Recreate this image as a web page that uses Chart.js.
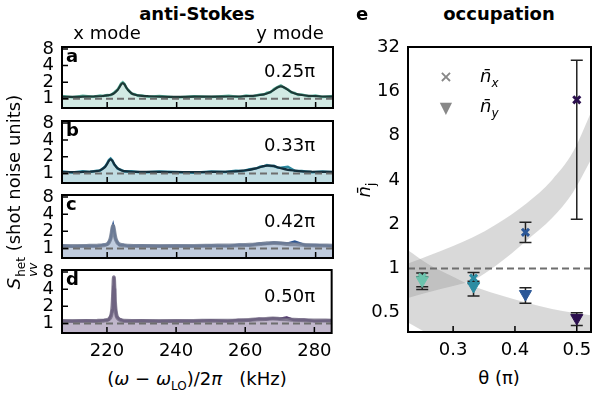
<!DOCTYPE html>
<html>
<head>
<meta charset="utf-8">
<script src="https://cdn.jsdelivr.net/npm/chart.js@4.4.1/dist/chart.umd.min.js"></script>
<style>
    body { margin: 0; background: #fff; }
    #fig { position: relative; width: 610px; height: 393px; overflow: hidden;
           font-family: 'DejaVu Sans', sans-serif; font-size: 18px; color: #000; }
    canvas { position: absolute; }
    .t { position: absolute; white-space: nowrap; line-height: 1; }
    .c { transform: translate(-50%, -50%); }
    .b { font-weight: bold; }
    .ss { display: inline-flex; flex-direction: column; font-size: 12px; line-height: 1; vertical-align: -5px; margin-left: 1px; }
    sub { font-size: 12px; }
</style>
</head>
<body>
<div id="fig">
    <canvas id="pa" width="340" height="73" style="left:0;top:38px"></canvas>
    <canvas id="pb" width="340" height="74" style="left:0;top:112px"></canvas>
    <canvas id="pc" width="340" height="75" style="left:0;top:186px"></canvas>
    <canvas id="pd" width="340" height="102" style="left:0;top:261px"></canvas>
    <canvas id="pe" width="270" height="325" style="left:340px;top:37px"></canvas>

    <div class="t c b" style="left:197px;top:14px">anti-Stokes</div>
    <div class="t c" style="left:107px;top:33px">x mode</div>
    <div class="t c" style="left:290px;top:33px">y mode</div>
    <div class="t c b" style="left:499px;top:14px">occupation</div>
    <div class="t c b" style="left:362px;top:14px">e</div>

    <div class="t b" style="left:66px;top:47px">a</div>
    <div class="t b" style="left:66px;top:121px">b</div>
    <div class="t b" style="left:66px;top:195px">c</div>
    <div class="t b" style="left:66px;top:270px">d</div>

    <div class="t" style="right:295px;top:62px">0.25π</div>
    <div class="t" style="right:295px;top:136px">0.33π</div>
    <div class="t" style="right:295px;top:212px">0.42π</div>
    <div class="t" style="right:295px;top:287px">0.50π</div>

    <div class="t c" style="left:197px;top:381px;white-space:pre">(<i>ω</i> − <i>ω</i><sub>LO</sub>)/2<i>π</i>   (kHz)</div>
    <div class="t c" style="left:22px;top:192px;transform:translate(-50%,-50%) rotate(-90deg)"><i>S</i><span class="ss"><span>het</span><span><i>vv</i></span></span> (shot noise units)</div>

    <div class="t c" style="left:499px;top:378px">θ (π)</div>
    <div class="t c" style="left:366px;top:190px;transform:translate(-50%,-50%) rotate(-90deg)"><i>n̄</i><sub>j</sub></div>

    <div class="t c b" style="left:446px;top:77px;color:#888;font-size:16px">×</div>
    <div class="t c" style="left:446px;top:108px;color:#888;font-size:16px">▼</div>
    <div class="t" style="left:480px;top:67px"><i>n̄</i><sub><i>x</i></sub></div>
    <div class="t" style="left:480px;top:97px"><i>n̄</i><sub><i>y</i></sub></div>
</div>

<script>
// ---- data: spectra (kHz, shot-noise units) ----
const xTicks = [220, 240, 260, 280];
const yTicksLeft = [1, 2, 4, 8];
const shotNoise = 1;

const freqA = [207,210,213,216,218,219,220,221,222,223,223.5,224,224.5,225,225.5,226,227,228,229,230,232,235,240,245,250,255,258,260,262,264,265,266,267,268,269,270,271,272,273,274,275,276,278,280,282,285];
const dataA = [1.12,1.07,1.13,1.09,1.14,1.12,1.17,1.16,1.30,1.47,1.66,1.88,2.0,1.86,1.58,1.47,1.24,1.21,1.13,1.15,1.09,1.12,1.06,1.11,1.08,1.13,1.08,1.14,1.11,1.19,1.18,1.29,1.31,1.50,1.62,1.74,1.58,1.49,1.30,1.27,1.17,1.19,1.11,1.14,1.08,1.12];
const fitA = [1.08,1.08,1.09,1.10,1.11,1.13,1.15,1.18,1.26,1.44,1.61,1.82,1.93,1.82,1.61,1.44,1.26,1.18,1.15,1.13,1.11,1.09,1.08,1.09,1.09,1.10,1.10,1.12,1.13,1.17,1.20,1.25,1.33,1.45,1.60,1.68,1.60,1.45,1.33,1.25,1.20,1.17,1.13,1.12,1.10,1.09];

const freqB = [207,210,213,215,217,218,219,219.5,220,220.5,221,221.5,222,222.5,223,224,225,227,230,235,240,245,250,254,257,259,261,263,264,265,266,267,268,269,270,272,274,276,279,282,285];
const dataB = [1.09,1.05,1.10,1.07,1.13,1.14,1.28,1.36,1.53,1.74,1.86,1.72,1.46,1.37,1.22,1.17,1.09,1.10,1.05,1.09,1.07,1.04,1.09,1.07,1.12,1.11,1.20,1.24,1.33,1.35,1.42,1.37,1.38,1.28,1.27,1.33,1.12,1.11,1.06,1.09,1.06];
const fitB = [1.06,1.06,1.07,1.08,1.11,1.15,1.25,1.34,1.49,1.69,1.80,1.69,1.49,1.34,1.25,1.15,1.11,1.08,1.07,1.07,1.06,1.06,1.07,1.08,1.10,1.13,1.17,1.25,1.30,1.36,1.39,1.39,1.36,1.30,1.25,1.17,1.13,1.10,1.08,1.07,1.07];

const freqC = [207,210,214,217,219,220,220.5,221,221.3,221.5,221.7,221.9,222.1,222.4,223,223.5,224.5,226,230,235,240,245,250,255,258,261,264,266,268,270,272,274,277,280,285];
const dataC = [1.13,1.08,1.12,1.10,1.16,1.17,1.30,1.48,1.92,2.30,2.55,2.22,1.90,1.47,1.27,1.15,1.16,1.10,1.13,1.09,1.12,1.10,1.13,1.11,1.16,1.14,1.22,1.21,1.27,1.24,1.23,1.32,1.14,1.15,1.10];
const fitC = [1.10,1.10,1.11,1.12,1.14,1.19,1.27,1.51,1.88,2.27,2.50,2.27,1.88,1.51,1.25,1.18,1.14,1.12,1.11,1.11,1.11,1.11,1.12,1.13,1.14,1.16,1.20,1.23,1.25,1.23,1.20,1.18,1.15,1.13,1.12];

const freqD = [207,210,214,217,219,220.5,221.2,221.5,221.7,221.85,222,222.15,222.3,222.5,222.8,223.5,225,230,235,240,245,250,255,258,261,264,266,268,270,272,274,277,280,285];
const dataD = [1.12,1.09,1.13,1.10,1.14,1.16,1.40,1.70,2.60,4.40,6.70,4.10,2.45,1.76,1.33,1.20,1.10,1.13,1.09,1.12,1.10,1.14,1.11,1.15,1.14,1.21,1.19,1.24,1.21,1.27,1.15,1.16,1.11,1.13];
const fitD = [1.10,1.10,1.10,1.11,1.12,1.18,1.36,1.72,2.53,4.30,6.50,4.30,2.53,1.72,1.36,1.18,1.12,1.11,1.11,1.11,1.11,1.12,1.12,1.13,1.15,1.18,1.20,1.22,1.20,1.18,1.16,1.14,1.13,1.12];

// ---- data: occupation ----
const thetaTicks = [0.3, 0.4, 0.5];
const nTicks = [0.5, 1, 2, 4, 8, 16, 32];
const theta = [0.25, 0.333, 0.417, 0.5];
const nx = [0.87, 0.86, 1.76, 14];
const nxLow = [0.75, 0.79, 1.5, 2.16];
const nxHigh = [0.93, 0.94, 2.06, 26];
const ny = [0.83, 0.76, 0.67, 0.46];
const nyLow = [0.72, 0.65, 0.58, 0.41];
const nyHigh = [0.88, 0.82, 0.74, 0.5];
const pointColors = ['#6cc3ad', '#2c8ca2', '#2b5797', '#2b0f4e'];

const bandTheta = [0.227, 0.26, 0.3, 0.332, 0.37, 0.419, 0.46, 0.494, 0.523];
const bandXUpper = [1.08, 1.22, 1.42, 1.63, 2.0, 2.78, 4.0, 6.2, 11.5];
const bandXLower = [0.63, 0.69, 0.76, 0.83, 1.05, 1.55, 2.2, 3.3, 5.5];
const bandYUpper = [1.33, 1.07, 0.88, 0.76, 0.67, 0.585, 0.53, 0.50, 0.48];
const bandYLower = [0.43, 0.36, 0.31, 0.28, 0.26, 0.24, 0.23, 0.22, 0.21];

Chart.defaults.font.family = "'DejaVu Sans', sans-serif";
Chart.defaults.font.size = 18;
Chart.defaults.color = '#000';

const pts = (xs, ys) => xs.map((x, i) => ({ x: x, y: ys[i] }));

function drawRef(chart) {
    const { ctx, chartArea: a, scales } = chart;
    const y = scales.y.getPixelForValue(shotNoise);
    ctx.save();
    ctx.beginPath();
    ctx.rect(a.left, a.top, a.right - a.left, a.bottom - a.top);
    ctx.clip();
    ctx.setLineDash([7, 4]);
    ctx.strokeStyle = '#6e6e6e';
    ctx.lineWidth = 2;
    ctx.beginPath();
    ctx.moveTo(a.left, y);
    ctx.lineTo(a.right, y);
    ctx.stroke();
    ctx.restore();
}

function drawFrame(chart, xt, yt) {
    const { ctx, chartArea: a, scales } = chart;
    ctx.save();
    ctx.strokeStyle = '#000';
    ctx.lineWidth = 1.5;
    ctx.beginPath();
    xt.forEach(v => {
        const x = scales.x.getPixelForValue(v);
        ctx.moveTo(x, a.bottom);
        ctx.lineTo(x, a.bottom - 6);
    });
    yt.forEach(v => {
        const y = scales.y.getPixelForValue(v);
        ctx.moveTo(a.left, y);
        ctx.lineTo(a.left + 6, y);
    });
    ctx.stroke();
    ctx.lineWidth = 2;
    ctx.strokeRect(a.left, a.top, a.right - a.left, a.bottom - a.top);
    ctx.restore();
}

const spectrumPlugin = {
    id: 'spectrumPlugin',
    afterDatasetsDraw(chart) {
        drawRef(chart);
        drawFrame(chart, xTicks, yTicksLeft);
    }
};

const panels = [
    { id: 'pa', freq: freqA, data: dataA, fit: fitA, dataColor: '#5cb59f', fillColor: 'rgba(92,181,159,0.28)', fitColor: '#1d3a37', fitWidth: 2.2 },
    { id: 'pb', freq: freqB, data: dataB, fit: fitB, dataColor: '#2d8aa0', fillColor: 'rgba(45,138,160,0.3)', fitColor: '#142f3d', fitWidth: 2.2 },
    { id: 'pc', freq: freqC, data: dataC, fit: fitC, dataColor: '#2d5592', fillColor: 'rgba(45,85,146,0.3)', fitColor: 'rgba(120,130,150,0.85)', fitWidth: 4 },
    { id: 'pd', freq: freqD, data: dataD, fit: fitD, dataColor: '#3a1d5c', fillColor: 'rgba(58,29,92,0.32)', fitColor: 'rgba(120,112,135,0.85)', fitWidth: 4 }
];

panels.forEach((p, k) => {
    const showX = k === panels.length - 1;
    new Chart(document.getElementById(p.id), {
        type: 'line',
        data: {
            datasets: [{
                data: pts(p.freq, p.fit),
                borderColor: p.fitColor,
                borderWidth: p.fitWidth,
                pointRadius: 0,
                fill: false,
                cubicInterpolationMode: 'monotone'
            }, {
                data: pts(p.freq, p.data),
                borderColor: p.dataColor,
                borderWidth: 2.5,
                pointRadius: 0,
                fill: 'start',
                backgroundColor: p.fillColor,
                tension: 0
            }]
        },
        options: {
            animation: false,
            responsive: false,
            devicePixelRatio: 1,
            layout: { padding: { top: 9, right: 7, bottom: showX ? 0 : 3, left: 0 } },
            plugins: { legend: { display: false }, tooltip: { enabled: false } },
            scales: {
                x: {
                    type: 'linear', min: 207, max: 285, display: showX,
                    grid: { display: false, drawTicks: false },
                    border: { display: false },
                    afterBuildTicks: s => { s.ticks = xTicks.map(v => ({ value: v })); },
                    ticks: { padding: 8, autoSkip: false, maxRotation: 0, callback: v => String(v) },
                    afterFit: s => { s.height = showX ? 30 : 0; }
                },
                y: {
                    type: 'logarithmic', min: 0.68, max: 8.7,
                    grid: { display: false, drawTicks: false },
                    border: { display: false },
                    afterBuildTicks: s => { s.ticks = yTicksLeft.map(v => ({ value: v })); },
                    ticks: { padding: 8, autoSkip: false, callback: v => String(v) },
                    afterFit: s => { s.width = 62; s.paddingTop = 0; s.paddingBottom = 0; }
                }
            }
        },
        plugins: [spectrumPlugin]
    });
});

// ---- occupation panel ----
const occupationPlugin = {
    id: 'occupationPlugin',
    beforeDatasetDraw(chart, args) {
        if (args.index !== 1) return;
        drawRef(chart);
        const { ctx, scales } = chart;
        ctx.save();
        ctx.strokeStyle = '#222';
        ctx.lineWidth = 1.5;
        const bars = [[nxLow, nxHigh], [nyLow, nyHigh]];
        bars.forEach(([lo, hi]) => {
            theta.forEach((t, i) => {
                const x = scales.x.getPixelForValue(t);
                const y1 = scales.y.getPixelForValue(lo[i]);
                const y2 = scales.y.getPixelForValue(hi[i]);
                ctx.beginPath();
                ctx.moveTo(x, y1); ctx.lineTo(x, y2);
                ctx.moveTo(x - 6, y1); ctx.lineTo(x + 6, y1);
                ctx.moveTo(x - 6, y2); ctx.lineTo(x + 6, y2);
                ctx.stroke();
            });
        });
        ctx.restore();
    },
    afterDatasetsDraw(chart) {
        drawFrame(chart, thetaTicks, []);
    }
};

const bandColor = 'rgba(150,150,150,0.36)';
new Chart(document.getElementById('pe'), {
    type: 'line',
    data: {
        datasets: [{
            data: pts(theta, nx), showLine: false, order: 0,
            pointStyle: 'crossRot', pointRadius: 5, borderWidth: 3,
            pointBorderColor: pointColors, pointBackgroundColor: pointColors
        }, {
            data: pts(theta, ny), showLine: false, order: 1,
            pointStyle: 'triangle', rotation: 180, pointRadius: 7, borderWidth: 1,
            pointBorderColor: pointColors, pointBackgroundColor: pointColors
        }, {
            data: pts(bandTheta, bandXUpper), order: 5, fill: '+1', backgroundColor: bandColor,
            borderWidth: 0, pointRadius: 0, cubicInterpolationMode: 'monotone'
        }, {
            data: pts(bandTheta, bandXLower), order: 5, fill: false,
            borderWidth: 0, pointRadius: 0, cubicInterpolationMode: 'monotone'
        }, {
            data: pts(bandTheta, bandYUpper), order: 5, fill: '+1', backgroundColor: bandColor,
            borderWidth: 0, pointRadius: 0, cubicInterpolationMode: 'monotone'
        }, {
            data: pts(bandTheta, bandYLower), order: 5, fill: false,
            borderWidth: 0, pointRadius: 0, cubicInterpolationMode: 'monotone'
        }]
    },
    options: {
        animation: false,
        responsive: false,
        devicePixelRatio: 1,
        layout: { padding: { top: 10, right: 19, bottom: 0, left: 0 } },
        plugins: { legend: { display: false }, tooltip: { enabled: false } },
        scales: {
            x: {
                type: 'linear', min: 0.227, max: 0.523,
                grid: { display: false, drawTicks: false },
                border: { display: false },
                afterBuildTicks: s => { s.ticks = thetaTicks.map(v => ({ value: v })); },
                ticks: { padding: 8, autoSkip: false, maxRotation: 0, callback: v => v.toFixed(1) },
                afterFit: s => { s.height = 30; }
            },
            y: {
                type: 'logarithmic', min: 0.37, max: 32,
                grid: { display: false, drawTicks: false },
                border: { display: false },
                afterBuildTicks: s => { s.ticks = nTicks.map(v => ({ value: v })); },
                ticks: { padding: 8, autoSkip: false, callback: v => String(v) },
                afterFit: s => { s.width = 68; s.paddingTop = 0; s.paddingBottom = 0; }
            }
        }
    },
    plugins: [occupationPlugin]
});
</script>
</body>
</html>
